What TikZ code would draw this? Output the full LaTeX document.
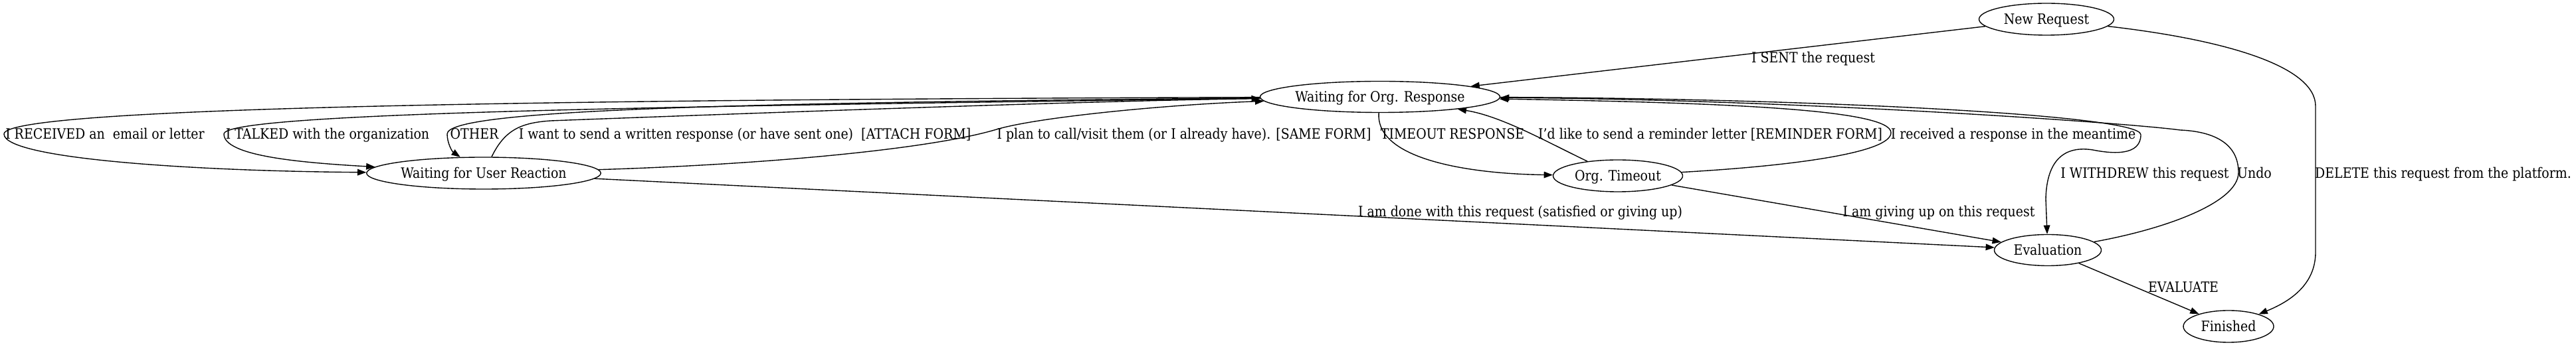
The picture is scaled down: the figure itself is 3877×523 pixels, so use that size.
\documentclass[tikz,border=0pt]{standalone}
\usepackage{fontspec}
\setmainfont{DejaVu Serif}[FakeStretch=0.88]
\usetikzlibrary{shapes.geometric,arrows.meta}
\begin{document}
\begin{tikzpicture}[x=0.4367pt,y=-0.4367pt,
  state/.style={draw,ellipse,line width=0.6pt,inner sep=0pt,font=\fontsize{9.4}{11}\selectfont,text height=6.85pt,text depth=0pt},
  lab/.style={inner sep=0pt,font=\fontsize{9.4}{11}\selectfont,text height=6.85pt,text depth=0pt},
  conn/.style={draw,line width=0.6pt,-{Triangle[length=5.8pt,width=4.2pt]}}]
\fill[white] (0,0) rectangle (3877,523);
\useasboundingbox (0,0) rectangle (3877,523);

\node[state,minimum width={203*0.4367pt},minimum height={48*0.4367pt}] (new) at (3080,29) {New Request};
\node[state,minimum width={357*0.4367pt},minimum height={47*0.4367pt}] (org) at (2077,146) {Waiting for Org. Response};
\node[state,minimum width={349*0.4367pt},minimum height={48*0.4367pt}] (user) at (728,261) {Waiting for User Reaction};
\node[state,minimum width={195*0.4367pt},minimum height={48*0.4367pt}] (tout) at (2435,265) {Org. Timeout};
\node[state,minimum width={161*0.4367pt},minimum height={47*0.4367pt}] (eval) at (3082,377) {Evaluation};
\node[state,minimum width={136*0.4367pt},minimum height={48*0.4367pt}] (fin) at (3354,492) {Finished};

\draw[conn] (new) -- (org);
\draw[conn] (new) .. controls (3350,60) and (3485,100) .. (3485,160) -- (3485,380) .. controls (3485,430) and (3445,455) .. (fin);
\draw[conn] (org) .. controls (900,150) and (6,160) .. (6,202) .. controls (6,240) and (300,258) .. (user);
\draw[conn] (org) .. controls (1000,160) and (337,170) .. (337,202) .. controls (337,235) and (450,245) .. (user);
\draw[conn] (org) .. controls (1100,155) and (673,165) .. (673,202) .. controls (673,215) and (680,228) .. (user);
\draw[conn] (user) .. controls (760,195) and (785,185) .. (829,182) .. controls (1200,168) and (1650,152) .. (org);
\draw[conn] (user) .. controls (1150,248) and (1400,225) .. (1500,195) .. controls (1560,177) and (1750,158) .. (org);
\draw[conn] (org) .. controls (2070,240) and (2210,262) .. (tout);
\draw[conn] (tout) .. controls (2330,215) and (2260,175) .. (org);
\draw[conn] (tout) .. controls (2700,250) and (2846,230) .. (2846,200) .. controls (2846,165) and (2600,155) .. (org);
\draw[conn] (org) .. controls (2700,148) and (3222,172) .. (3222,203) .. controls (3222,235) and (3180,232) .. (3150,226) .. controls (3100,218) and (3080,250) .. (3079,300) -- (eval);
\draw[conn] (eval) .. controls (3260,345) and (3369,305) .. (3369,260) .. controls (3369,215) and (3330,198) .. (3281,196) .. controls (3200,185) and (2700,150) .. (org);
\draw[conn] (user) -- (eval);
\draw[conn] (tout) -- (eval);
\draw[conn] (eval) -- (fin);

\node[lab] (lRec) at (158,202) {I RECEIVED an\ \ email or letter};
\node[lab] (lTalk) at (493,202) {I TALKED with the organization};
\node[lab] (lOther) at (714,202) {OTHER};
\node[lab] (lAttach) at (1121,202) {I want to send a written response (or have sent one)\ \ [ATTACH FORM]};
\node[lab] (lSame) at (1782,202) {I plan to call/visit them (or I already have). [SAME FORM]};
\node[lab] (lTimeout) at (2186,202) {TIMEOUT RESPONSE};
\node[lab] (lRemind) at (2574,202) {I'd like to send a reminder letter [REMINDER FORM]};
\node[lab] (lMean) at (3030,202) {I received a response in the meantime};
\node[lab] (lWithdrew) at (3228,261) {I WITHDREW this request};
\node[lab] (lUndo) at (3393,261) {Undo};
\node[lab] (lDelete) at (3677,261) {DELETE this request from the platform.};
\node[lab] (lSent) at (2729,87) {I SENT the request};
\node[lab] (lDone) at (2288,319) {I am done with this request (satisfied or giving up)};
\node[lab] (lGive) at (2918,319) {I am giving up on this request};
\node[lab] (lEval) at (3286,433) {EVALUATE};
\end{tikzpicture}
\end{document}
